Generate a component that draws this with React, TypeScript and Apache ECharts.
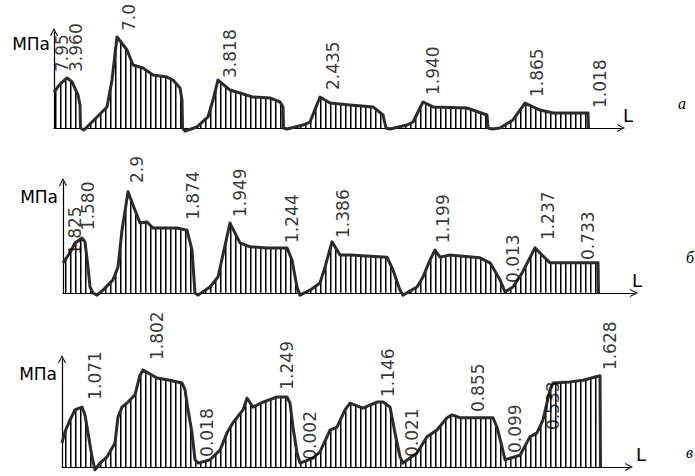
import React, { useEffect, useRef } from "react";
import * as echarts from "echarts";

// Curves: [L position, stress in MPa]
const curveA: [number, number][] = [
  [0, 2.77], [6, 3.38], [13, 3.85], [18, 3.54], [24, 2.54], [26, 1.77], [26.5, 0], [30, -0.15],
  [43, 0.85], [53, 1.62], [58, 3.69], [63, 7.0], [73, 6.0], [79, 4.85], [89, 4.62], [99, 4.08],
  [113, 3.92], [119, 3.69], [126, 3.08], [128, 2.15], [128.5, 0], [131, -0.23], [143, 0.08],
  [154, 0.85], [159, 2.15], [164, 3.69], [176, 2.92], [186, 2.69], [199, 2.38], [216, 2.31],
  [226, 2.0], [229, 1.62], [229.5, 0], [233, -0.08], [249, 0.23], [256, 0.46], [266, 2.38],
  [276, 1.92], [296, 1.77], [319, 1.62], [329, 1.0], [332, 0], [336, -0.08], [353, 0.23],
  [359, 0.46], [369, 2.0], [379, 1.62], [413, 1.54], [433, 1.0], [434, 0], [438, -0.08],
  [446, 0], [459, 0.62], [471, 1.92], [486, 1.38], [499, 1.15], [534, 1.15], [534.5, 0],
];
const curveB: [number, number][] = [
  [0, 0.85], [7, 1.13], [12, 1.41], [19, 1.55], [22, 1.44], [25, 0.73], [27, 0.17], [30, 0],
  [34, -0.06], [40, 0.08], [50, 0.37], [55, 0.73], [59, 1.77], [65, 2.85], [70, 2.48], [77, 1.97],
  [84, 2.0], [90, 1.83], [114, 1.83], [124, 1.77], [129, 1.21], [132, 0], [135, -0.06],
  [147, 0.17], [155, 0.45], [161, 1.21], [167, 1.97], [177, 1.41], [187, 1.3], [204, 1.27],
  [224, 1.27], [229, 0.93], [234, 0.17], [237, -0.06], [247, 0.08], [257, 0.28], [262, 0.73],
  [269, 1.44], [277, 1.07], [287, 1.07], [324, 1.01], [330, 0.65], [337, 0.08], [340, -0.06],
  [354, 0.17], [360, 0.45], [367, 0.93], [372, 1.21], [377, 1.01], [387, 1.07], [417, 0.99],
  [427, 0.85], [437, 0.37], [442, 0.03], [450, 0.17], [459, 0.56], [472, 1.27], [479, 1.07],
  [487, 0.85], [535, 0.85], [535.5, 0],
];
const curveC: [number, number][] = [
  [0, 0.43], [3, 0.63], [8, 0.84], [13, 1.02], [20, 1.07], [23, 0.93], [26, 0.61], [30, 0.18],
  [33, -0.05], [38, 0.07], [45, 0.18], [53, 0.43], [56, 0.89], [60, 1.07], [66, 1.16], [73, 1.29],
  [75, 1.43], [78, 1.64], [81, 1.73], [86, 1.68], [95, 1.59], [108, 1.55], [120, 1.5], [123, 1.38],
  [126, 1.02], [130, 0.61], [133, 0.13], [136, 0.07], [148, 0.13], [158, 0.3], [165, 0.61],
  [171, 0.79], [181, 1.02], [185, 1.23], [191, 1.07], [201, 1.16], [215, 1.25], [225, 1.25],
  [228, 1.14], [231, 0.71], [235, 0.25], [238, 0.07], [251, 0.16], [258, 0.27], [268, 0.66],
  [275, 0.71], [283, 1.02], [288, 1.14], [301, 1.05], [315, 1.16], [321, 1.16], [328, 1.07],
  [333, 0.61], [338, 0.18], [341, 0.07], [355, 0.25], [365, 0.54], [375, 0.66], [385, 0.88],
  [390, 0.93], [398, 0.88], [431, 0.88], [435, 0.71], [440, 0.36], [443, 0.13], [458, 0.21],
  [468, 0.54], [475, 0.61], [481, 0.84], [488, 1.38], [491, 1.5], [508, 1.52], [521, 1.55],
  [538, 1.63], [538.5, 0],
];

// Value annotations: [L position, MPa level where the text starts, text]
const labelsA: [number, number, string][] = [
  [8, 4.31, "7.95"], [22, 4.31, "3.960"], [75, 7.46, "7.0"], [176, 3.85, "3.818"],
  [279, 2.92, "2.435"], [379, 2.54, "1.940"], [483, 2.38, "1.865"], [546, 1.54, "1.018"],
];
const labelsB: [number, number, string][] = [
  [12, 1.07, "1.825"], [25, 1.77, "1.580"], [74, 3.1, "2.9"], [130, 2.06, "1.874"],
  [177, 2.14, "1.949"], [229, 1.41, "1.244"], [280, 1.55, "1.386"], [380, 1.41, "1.199"],
  [450, 0.28, "0.013"], [485, 1.49, "1.237"], [525, 0.93, "0.733"],
];
const labelsC: [number, number, string][] = [
  [33, 1.2, "1.071"], [95, 1.91, "1.802"], [145, 0.18, "0.018"], [225, 1.38, "1.249"],
  [248, 0.13, "0.002"], [326, 1.25, "1.146"], [350, 0.18, "0.021"], [416, 0.98, "0.855"],
  [453, 0.25, "0.099"], [491, 0.66, "0.533"], [548, 1.73, "1.628"],
];

const unitName = "МПа";
const axisName = "L";
const panelLetters = ["а", "б", "в"];

const FONT = "DejaVu Sans";
const HATCH =
  "data:image/svg+xml;charset=utf-8," +
  encodeURIComponent(
    "<svg xmlns='http://www.w3.org/2000/svg' width='5' height='4'><rect x='0' y='0' width='1.5' height='4' fill='#000'/></svg>"
  );
const CHEVRON = "path://M5,0 L10,10 L8.6,10 L5,2.8 L1.4,10 L0,10 Z";

export default function App() {
  const ref = useRef<HTMLDivElement>(null);
  useEffect(() => {
    document.body.style.margin = "0";
    if (!ref.current) return;
    const chart = echarts.init(ref.current, undefined, { renderer: "svg" });

    const panels = [
      { curve: curveA, labels: labelsA, grid: { left: 54, top: 32, width: 567, height: 96 }, ymax: 96 / 13 },
      { curve: curveB, labels: labelsB, grid: { left: 63, top: 182, width: 571, height: 111 }, ymax: 111 / 35.5 },
      { curve: curveC, labels: labelsC, grid: { left: 62, top: 359, width: 567, height: 108 }, ymax: 108 / 56 },
    ];

    const axisLine = {
      show: true,
      onZero: false,
      symbol: ["none", CHEVRON],
      symbolSize: [8, 8],
      lineStyle: { color: "#000", width: 1.2 },
    };

    const grid = panels.map((p) => ({ ...p.grid, containLabel: false }));
    const xAxis = panels.map((p, i) => ({
      type: "value",
      gridIndex: i,
      min: 0,
      max: p.grid.width,
      axisLine,
      axisTick: { show: false },
      axisLabel: { show: false },
      splitLine: { show: false },
    }));
    const yAxis = panels.map((p, i) => ({
      type: "value",
      gridIndex: i,
      min: 0,
      max: p.ymax,
      axisLine,
      axisTick: { show: false },
      axisLabel: { show: false },
      splitLine: { show: false },
    }));

    const series: any[] = [];
    panels.forEach((p, i) => {
      series.push({
        type: "line",
        xAxisIndex: i,
        yAxisIndex: i,
        data: p.curve,
        symbol: "none",
        clip: false,
        lineStyle: { color: "#2b2b2b", width: 3, join: "round" },
        areaStyle: {
          color: { image: HATCH, repeat: "repeat", imageWidth: 5, imageHeight: 4 },
          opacity: 1,
          origin: "start",
        },
        z: 2,
      });
      series.push({
        type: "scatter",
        xAxisIndex: i,
        yAxisIndex: i,
        data: p.labels.map((l) => [l[0], l[1], l[2]]),
        symbolSize: 0,
        clip: false,
        z: 5,
        label: {
          show: true,
          position: "inside",
          rotate: 90,
          align: "left",
          verticalAlign: "middle",
          formatter: (d: any) => d.value[2],
          fontFamily: FONT,
          fontSize: 17,
          color: "#000",
        },
      });
    });

    const unitPos = [
      { x: 50, y: 44 },
      { x: 58, y: 197 },
      { x: 57, y: 374 },
    ];
    const lPos = [
      { x: 623, y: 106 },
      { x: 632, y: 271 },
      { x: 636, y: 445 },
    ];
    const letterPos = [
      { x: 678, y: 103 },
      { x: 686, y: 257 },
      { x: 686, y: 452 },
    ];
    const graphic: any[] = [];
    panels.forEach((_, i) => {
      graphic.push({
        type: "text",
        x: unitPos[i].x,
        y: unitPos[i].y,
        style: { text: unitName, fontFamily: FONT, fontSize: 17, fill: "#000", align: "right", verticalAlign: "middle" },
      });
      graphic.push({
        type: "text",
        x: lPos[i].x,
        y: lPos[i].y,
        style: { text: axisName, fontFamily: FONT, fontSize: 18, fill: "#000", align: "left", verticalAlign: "top" },
      });
      graphic.push({
        type: "text",
        x: letterPos[i].x,
        y: letterPos[i].y,
        style: {
          text: panelLetters[i],
          fontFamily: "Liberation Serif",
          fontStyle: "italic",
          fontSize: 16,
          fill: "#000",
          align: "left",
          verticalAlign: "middle",
        },
      });
    });

    chart.setOption({
      animation: false,
      backgroundColor: "#fff",
      grid,
      xAxis,
      yAxis,
      series,
      graphic,
    });
    return () => chart.dispose();
  }, []);
  return <div ref={ref} style={{ width: 695, height: 476 }} />;
}
